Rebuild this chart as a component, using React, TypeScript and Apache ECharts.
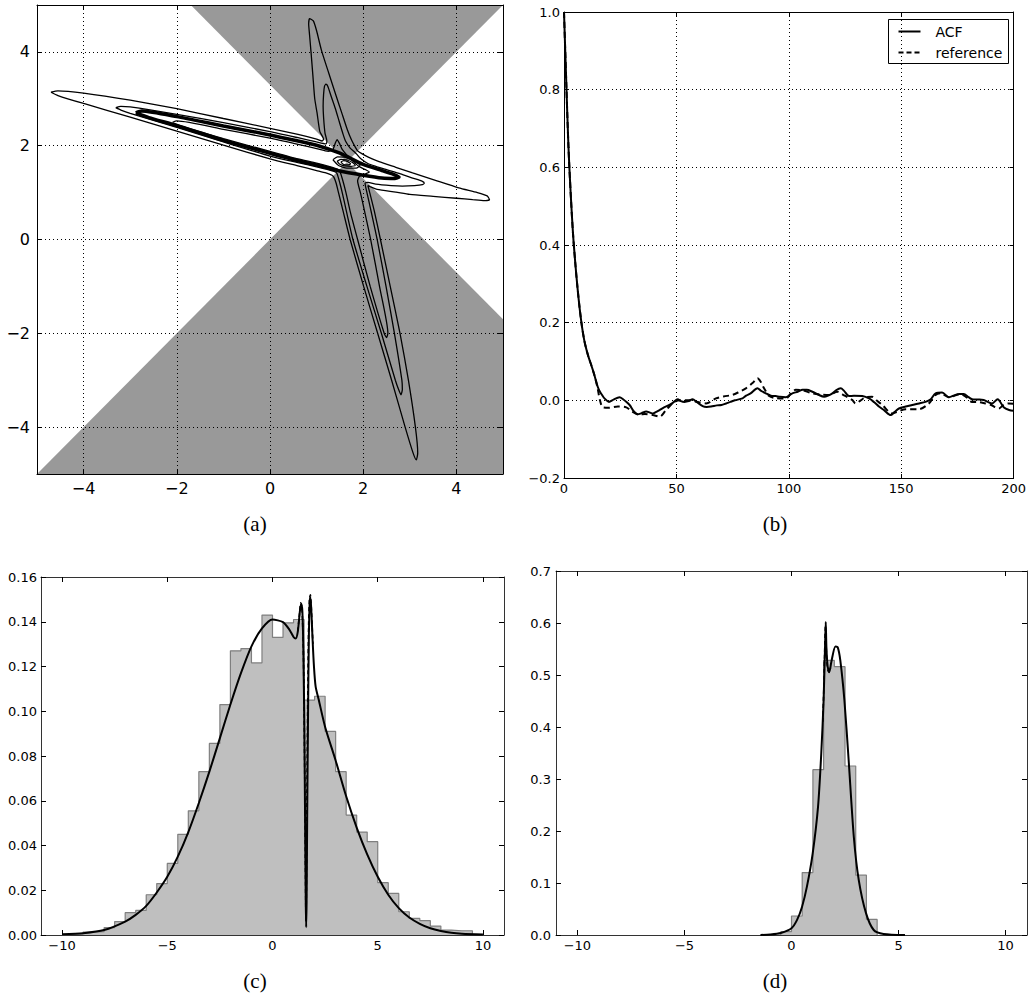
import React, { useEffect, useRef } from 'react';
import * as echarts from 'echarts';

// ---------- Panel (a): shaded wedges and contour lines ----------
const wedgeTop = [[-1.7, 5], [1.65, 1.65], [5, 5]];
const wedgeBottom = [[-5, -5], [1.65, 1.65], [5, -1.7], [5, -5]];

const contourOuter = [
  [-4.70, 3.14], [-4.55, 3.17], [-4.0, 3.12], [-3.0, 2.97], [-2.0, 2.79], [-1.0, 2.58], [0.0, 2.37], [0.6, 2.24], [1.0, 2.14], [1.12, 2.10],
  [1.15, 2.14], [1.07, 2.30], [1.01, 2.70], [0.96, 3.00], [0.92, 3.50], [0.88, 4.00], [0.85, 4.35], [0.83, 4.60], [0.85, 4.71],
  [0.93, 4.66], [1.00, 4.45], [1.10, 4.05], [1.26, 3.55], [1.42, 3.06], [1.54, 2.70], [1.66, 2.34], [1.75, 2.12], [1.83, 1.97], [1.88, 1.89],
  [1.97, 1.83], [2.12, 1.75], [2.34, 1.66], [2.70, 1.54], [3.06, 1.42], [3.55, 1.26], [4.05, 1.10], [4.45, 1.00], [4.66, 0.93], [4.71, 0.85],
  [4.60, 0.83], [4.35, 0.85], [4.00, 0.88], [3.50, 0.92], [3.00, 0.96], [2.70, 1.01], [2.30, 1.07], [2.14, 1.13],
  [2.10, 1.15], [2.14, 1.00], [2.24, 0.60], [2.37, 0.00], [2.58, -1.00], [2.79, -2.00], [2.97, -3.00], [3.12, -4.00], [3.17, -4.55], [3.14, -4.70],
  [3.07, -4.55], [2.90, -4.00], [2.61, -3.00], [2.31, -2.00], [2.01, -1.00], [1.72, 0.00], [1.57, 0.60], [1.47, 1.00], [1.42, 1.20], [1.37, 1.33],
  [1.33, 1.37], [1.20, 1.42], [1.00, 1.47], [0.60, 1.57], [0.00, 1.72], [-1.00, 2.01], [-2.00, 2.31], [-3.00, 2.61], [-4.00, 2.90], [-4.55, 3.07], [-4.70, 3.14],
];

const contourMiddle = [
  [-3.31, 2.81], [-3.2, 2.84], [-3.0, 2.83], [-2.0, 2.67], [-1.0, 2.49], [0.0, 2.30], [0.6, 2.17], [1.0, 2.08], [1.20, 2.04],
  [1.22, 2.10], [1.18, 2.27], [1.15, 2.60], [1.14, 2.84], [1.15, 3.10], [1.17, 3.27], [1.20, 3.31],
  [1.24, 3.27], [1.31, 3.06], [1.40, 2.80], [1.49, 2.50], [1.56, 2.27], [1.62, 2.10], [1.72, 1.95], [1.82, 1.86],
  [1.86, 1.82], [1.95, 1.72], [2.10, 1.62], [2.27, 1.56], [2.50, 1.49], [2.80, 1.40], [3.06, 1.31], [3.27, 1.24], [3.31, 1.20],
  [3.27, 1.17], [3.10, 1.15], [2.84, 1.14], [2.60, 1.15], [2.27, 1.18], [2.10, 1.22],
  [2.04, 1.20], [2.08, 1.00], [2.17, 0.60], [2.30, 0.00], [2.49, -1.00], [2.67, -2.00], [2.83, -3.00], [2.84, -3.20], [2.81, -3.31],
  [2.76, -3.20], [2.69, -3.00], [2.39, -2.00], [2.08, -1.00], [1.78, 0.00], [1.64, 0.60], [1.55, 1.00], [1.50, 1.20], [1.44, 1.40],
  [1.40, 1.44], [1.20, 1.50], [1.00, 1.55], [0.60, 1.64], [0.00, 1.78], [-1.00, 2.08], [-2.00, 2.39], [-3.00, 2.69], [-3.2, 2.76], [-3.31, 2.81],
];

const contourInner = [
  [-2.09, 2.50], [-2.0, 2.53], [-1.0, 2.35], [0.0, 2.16], [0.6, 2.03], [1.0, 1.94], [1.25, 1.88], [1.35, 1.92], [1.40, 2.05], [1.44, 2.13],
  [1.49, 2.05], [1.55, 1.92], [1.65, 1.80], [1.80, 1.65], [1.92, 1.55], [2.05, 1.49], [2.13, 1.44],
  [2.05, 1.40], [1.92, 1.35], [1.88, 1.25], [1.94, 1.00], [2.03, 0.60], [2.16, 0.00], [2.35, -1.00], [2.53, -2.00], [2.50, -2.09],
  [2.45, -2.00], [2.15, -1.00], [1.88, 0.00], [1.72, 0.60], [1.63, 1.00], [1.55, 1.30], [1.50, 1.45],
  [1.45, 1.50], [1.30, 1.55], [1.00, 1.63], [0.60, 1.72], [0.00, 1.88], [-1.00, 2.15], [-2.00, 2.45], [-2.09, 2.50],
];

const contourThick = [
  [-2.88, 2.70], [-2.75, 2.74], [-2.0, 2.62], [-1.0, 2.42], [0.0, 2.23], [0.6, 2.10], [1.0, 2.01], [1.5, 1.84], [2.0, 1.60], [2.4, 1.47], [2.65, 1.39], [2.77, 1.33],
  [2.68, 1.30], [2.4, 1.31], [2.0, 1.37], [1.5, 1.46], [1.0, 1.59], [0.6, 1.68], [0.0, 1.84], [-1.0, 2.115], [-2.0, 2.43], [-2.6, 2.60], [-2.88, 2.70],
];

const centerLoop1 = [[1.35, 1.70], [1.45, 1.76], [1.62, 1.75], [1.80, 1.68], [1.93, 1.58], [1.85, 1.52], [1.65, 1.52], [1.47, 1.58], [1.35, 1.70]];
const centerLoop2 = [[1.44, 1.67], [1.52, 1.71], [1.64, 1.70], [1.77, 1.64], [1.83, 1.58], [1.74, 1.56], [1.60, 1.57], [1.49, 1.61], [1.44, 1.67]];
const centerLoop3 = [[1.52, 1.65], [1.58, 1.68], [1.67, 1.66], [1.73, 1.61], [1.67, 1.59], [1.58, 1.60], [1.52, 1.65]];

const ticksA = [-4, -2, 0, 2, 4];

// ---------- Panel (b): autocorrelation ----------
const legendNames = ['ACF', 'reference'];

const acf = [
  [0, 1.0], [1, 0.82], [2, 0.65], [3, 0.53], [4, 0.43], [5, 0.355], [6, 0.29], [7, 0.235], [8, 0.19], [9, 0.155], [10, 0.13],
  [11, 0.11], [12, 0.093], [13, 0.075], [14, 0.055], [15, 0.035], [16, 0.022], [17, 0.013], [18, 0.005], [20, -0.004], [22, 0.002],
  [24.7, 0.008], [26, 0.004], [29.2, -0.012], [31, -0.028], [32.8, -0.036], [34.5, -0.033], [36.6, -0.029], [38, -0.031], [39.5, -0.034],
  [41, -0.03], [42.5, -0.025], [44.5, -0.018], [46.9, -0.012], [48.5, -0.006], [50.6, 0.003], [52, -0.002], [53.6, -0.004], [55.5, -0.002],
  [57.2, 0.003], [59, -0.004], [61.7, -0.015], [63.5, -0.017], [65.4, -0.016], [68, -0.013], [70, -0.012], [72.1, -0.008], [74, -0.004],
  [76, 0.0], [79.4, 0.005], [81, 0.012], [83, 0.018], [86.1, 0.031], [87.5, 0.025], [89.8, 0.018], [92, 0.012], [94.2, 0.011], [96, 0.009],
  [98.7, 0.008], [101.6, 0.018], [104, 0.022], [106.1, 0.027], [108, 0.027], [110.5, 0.022], [113, 0.015], [115.7, 0.009], [117.5, 0.012],
  [119.4, 0.018], [121, 0.026], [123.1, 0.031], [124.5, 0.025], [126.8, 0.011], [129, 0.012], [132.7, 0.011], [135.7, 0.005], [138, -0.005],
  [140.1, -0.016], [142.5, -0.026], [145.3, -0.038], [147, -0.03], [149, -0.021], [152, -0.016], [154.9, -0.012], [158, -0.008],
  [160.8, -0.004], [163, 0.002], [165.3, 0.018], [168.2, 0.02], [171.2, 0.008], [174.1, 0.014], [176, 0.016], [177.8, 0.016], [180, 0.008],
  [181.5, 0.003], [184, 0.002], [186.7, 0.001], [188.5, -0.004], [190.4, -0.008], [192.9, 0.003], [195.6, -0.018], [198, -0.025], [200, -0.027],
];

const acfReference = [
  [0, 1.0], [1, 0.82], [2, 0.65], [3, 0.53], [4, 0.43], [5, 0.355], [6, 0.29], [7, 0.235], [8, 0.19], [9, 0.155], [10, 0.13],
  [11, 0.11], [12, 0.093], [13, 0.075], [14, 0.055], [15, 0.03], [16, 0.0], [17.3, -0.018], [20, -0.019], [24, -0.016], [27.7, -0.018],
  [30, -0.028], [33.6, -0.037], [36, -0.035], [39.5, -0.038], [42.5, -0.042], [45.4, -0.025], [49.1, -0.004], [52, 0.0], [56, 0.0],
  [60, -0.005], [63.2, -0.008], [67.6, 0.005], [71, 0.01], [75, 0.014], [78, 0.022], [80.9, 0.031], [84, 0.045], [86.1, 0.057],
  [87.5, 0.048], [89, 0.031], [91.3, 0.011], [94, 0.006], [98.7, 0.005], [101, 0.018], [103.1, 0.027], [106, 0.026], [110.5, 0.018],
  [114, 0.015], [117.9, 0.014], [121.6, 0.022], [124, 0.015], [128.2, 0.001], [129.7, -0.008], [132, 0.0], [134.2, 0.008], [137.1, 0.009],
  [139, 0.0], [141.6, -0.012], [146, -0.034], [149, -0.028], [151.9, -0.023], [157.8, -0.023], [162.3, -0.008], [165.3, 0.014],
  [167.5, 0.018], [171.2, 0.008], [176.4, 0.016], [179, 0.008], [181.5, -0.004], [184, -0.004], [187.4, -0.008], [190, -0.012],
  [193.4, -0.021], [195.5, -0.012], [197.8, -0.008], [200, -0.009],
];

// ---------- Panel (c): histogram and density ----------
const cBinEdges = [
  -10, -9.5, -9, -8.5, -8, -7.5, -7, -6.5, -6, -5.5, -5, -4.5, -4, -3.5, -3, -2.5, -2, -1.5, -1, -0.5,
  0, 0.5, 1, 1.5, 2, 2.5, 3, 3.5, 4, 4.5, 5, 5.5, 6, 6.5, 7, 7.5, 8, 8.5, 9, 9.5,
];
const cBinHeights = [
  0.0003, 0.0005, 0.0013, 0.0015, 0.0033, 0.006, 0.010, 0.011, 0.018, 0.023,
  0.032, 0.045, 0.0555, 0.073, 0.0856, 0.103, 0.127, 0.128, 0.1216, 0.143,
  0.133, 0.1395, 0.141, 0.105, 0.1067, 0.091, 0.073, 0.0536, 0.046, 0.0417,
  0.0234, 0.0186, 0.0104, 0.0074, 0.0064, 0.004, 0.0022, 0.0019, 0.0019,
];
const cDensity = [
  [-10.0, 0.0003], [-9.0, 0.0008], [-8.0, 0.0022], [-7.0, 0.006], [-6.5, 0.009], [-6.0, 0.013], [-5.5, 0.019], [-5.0, 0.026],
  [-4.5, 0.035], [-4.0, 0.046], [-3.5, 0.059], [-3.0, 0.073], [-2.5, 0.088], [-2.0, 0.103], [-1.5, 0.117], [-1.0, 0.129],
  [-0.5, 0.137], [0.0, 0.141], [0.5, 0.1398], [0.8, 0.1365], [1.0, 0.1332], [1.1, 0.1325], [1.2, 0.1355], [1.3, 0.1445], [1.36, 0.148],
  [1.42, 0.1445], [1.47, 0.125], [1.51, 0.095], [1.55, 0.05], [1.58, 0.015], [1.60, 0.0035], [1.62, 0.015], [1.65, 0.055],
  [1.69, 0.10], [1.73, 0.135], [1.77, 0.149], [1.80, 0.151], [1.84, 0.146], [1.90, 0.133], [1.97, 0.12], [2.05, 0.111],
  [2.2, 0.105], [2.5, 0.093], [3.0, 0.078], [3.5, 0.062], [4.0, 0.048], [4.5, 0.036], [5.0, 0.026], [5.5, 0.018],
  [6.0, 0.012], [6.5, 0.0078], [7.0, 0.005], [7.5, 0.003], [8.0, 0.0018], [8.5, 0.001], [9.0, 0.0006], [10.0, 0.0002],
];
// dashed reference density, visible only where it departs from the solid one (around the notch)
const cDensityRef = [
  [1.2, 0.1358], [1.28, 0.143], [1.34, 0.1485], [1.40, 0.146], [1.46, 0.130], [1.50, 0.104], [1.54, 0.062], [1.57, 0.025],
  [1.59, 0.006], [1.61, 0.02], [1.64, 0.065], [1.68, 0.110], [1.72, 0.140], [1.76, 0.1505], [1.80, 0.152], [1.85, 0.145], [1.92, 0.130],
];

// ---------- Panel (d): histogram and density ----------
const dBinEdges = [-0.5, 0, 0.5, 1, 1.5, 2, 2.5, 3, 3.5, 4];
const dBinHeights = [0.0064, 0.0365, 0.12, 0.318, 0.528, 0.516, 0.325, 0.115, 0.030];
const dDensity = [
  [-1.45, 0.0], [-1.0, 0.001], [-0.5, 0.004], [0.0, 0.013], [0.26, 0.029], [0.49, 0.054], [0.72, 0.093], [0.99, 0.157],
  [1.24, 0.247], [1.39, 0.349], [1.50, 0.452], [1.57, 0.56], [1.60, 0.602], [1.63, 0.554], [1.69, 0.516], [1.77, 0.506],
  [1.86, 0.525], [2.05, 0.555], [2.16, 0.553], [2.28, 0.528], [2.47, 0.452], [2.67, 0.336], [2.91, 0.189], [3.14, 0.106],
  [3.48, 0.042], [3.84, 0.0096], [4.3, 0.002], [5.3, 0.0],
];
const dDensityRef = [
  [1.46, 0.41], [1.52, 0.49], [1.56, 0.565], [1.585, 0.595], [1.61, 0.565], [1.65, 0.527], [1.70, 0.509], [1.76, 0.505], [1.82, 0.514],
];

const ticksCD = [-10, -5, 0, 5, 10];
const captions = ['(a)', '(b)', '(c)', '(d)'];

// ---------- helpers ----------
const minus = (s: string) => (s.charAt(0) === '-' ? '\u2212' + s.slice(1) : s);
const fmt = (d: number) => (v: number) => minus(Number(v).toFixed(d));

const histOutline = (edges: number[], heights: number[]) => {
  const pts: number[][] = [[edges[0], 0]];
  heights.forEach((h, i) => {
    pts.push([edges[i], h]);
    pts.push([edges[i + 1], h]);
  });
  pts.push([edges[edges.length - 1], 0]);
  return pts;
};

const SANS = '"DejaVu Sans", sans-serif';
const dotted = { color: '#000', width: 1, type: [1, 3] as any };

function makeX(gi: number, cfg: any) {
  const line = { show: true, onZero: false, lineStyle: { color: cfg.frame, width: 1 } };
  const tick = { show: true, inside: true, length: cfg.tickLen, lineStyle: { color: '#000', width: 1 }, customValues: cfg.custom };
  const base = { type: 'value', gridIndex: gi, min: cfg.min, max: cfg.max, interval: cfg.interval, z: cfg.z || 0 };
  return [
    {
      ...base, position: 'bottom', axisLine: line, axisTick: tick,
      axisLabel: { show: true, customValues: cfg.custom, formatter: cfg.fmt, fontSize: cfg.fontSize, fontFamily: SANS, color: '#000', margin: cfg.margin },
      splitLine: cfg.grid ? { show: true, lineStyle: dotted } : { show: false },
    },
    { ...base, position: 'top', axisLine: line, axisTick: tick, axisLabel: { show: false }, splitLine: { show: false } },
  ];
}

function makeY(gi: number, cfg: any) {
  const line = { show: true, onZero: false, lineStyle: { color: cfg.frame, width: 1 } };
  const tick = { show: true, inside: true, length: cfg.tickLen, lineStyle: { color: '#000', width: 1 }, customValues: cfg.custom };
  const base = { type: 'value', gridIndex: gi, min: cfg.min, max: cfg.max, interval: cfg.interval, z: cfg.z || 0 };
  return [
    {
      ...base, position: 'left', axisLine: line, axisTick: tick,
      axisLabel: { show: true, customValues: cfg.custom, formatter: cfg.fmt, fontSize: cfg.fontSize, fontFamily: SANS, color: '#000', margin: cfg.margin },
      splitLine: cfg.grid ? { show: true, lineStyle: dotted } : { show: false },
    },
    { ...base, position: 'right', axisLine: line, axisTick: tick, axisLabel: { show: false }, splitLine: { show: false } },
  ];
}

const polygonRender = (pts: number[][], fill: string) => (params: any, api: any) => {
  if (params.dataIndex !== 0) return { type: 'group', children: [] };
  return { type: 'polygon', shape: { points: pts.map((p) => api.coord(p)) }, style: { fill } };
};

const contour = (data: number[][], width: number) => ({
  type: 'line', xAxisIndex: 0, yAxisIndex: 0, data, symbol: 'none', showSymbol: false, smooth: 0.2,
  lineStyle: { color: '#000', width }, z: 10, silent: true,
});

const curve = (xi: number, data: number[][], width: number, dashed: boolean, z: number) => ({
  type: 'line', xAxisIndex: xi, yAxisIndex: xi, data, symbol: 'none', showSymbol: false, smooth: 0.25,
  lineStyle: { color: '#000', width, type: dashed ? [4, 3] : 'solid' }, z, silent: true,
});

// legend box for panel (b), drawn as graphic elements
const legendGraphic = {
  type: 'group', left: 888, top: 19,
  children: [
    { type: 'rect', shape: { x: 0, y: 0, width: 120, height: 44 }, style: { fill: '#fff', stroke: '#000', lineWidth: 1 } },
    { type: 'line', shape: { x1: 10, y1: 12, x2: 32, y2: 12 }, style: { stroke: '#000', lineWidth: 2 } },
    { type: 'line', shape: { x1: 10, y1: 33, x2: 32, y2: 33 }, style: { stroke: '#000', lineWidth: 2, lineDash: [5, 3] } },
    { type: 'text', x: 47, y: 12, style: { text: legendNames[0], font: '14px "DejaVu Sans", sans-serif', fill: '#000', textVerticalAlign: 'middle' } },
    { type: 'text', x: 47, y: 33, style: { text: legendNames[1], font: '14px "DejaVu Sans", sans-serif', fill: '#000', textVerticalAlign: 'middle' } },
  ],
};

export default function App() {
  const ref = useRef<HTMLDivElement>(null);
  useEffect(() => {
    if (!ref.current) return;
    const chart = echarts.init(ref.current, null, { renderer: 'svg' });
    const option: any = {
      animation: false,
      backgroundColor: '#fff',
      grid: [
        { left: 37, top: 5, width: 466, height: 469 },
        { left: 564, top: 12, width: 451, height: 466 },
        { left: 41, top: 577, width: 463, height: 358 },
        { left: 556, top: 571, width: 471, height: 364 },
      ],
      xAxis: [
        ...makeX(0, { min: -5, max: 5, custom: ticksA, fmt: fmt(0), fontSize: 16, margin: 6, tickLen: 5, grid: true, frame: '#000', z: 5 }),
        ...makeX(1, { min: 0, max: 200, interval: 50, fmt: fmt(0), fontSize: 13, margin: 4, tickLen: 4, grid: true, frame: '#000', z: 5 }),
        ...makeX(2, { min: -11, max: 11, custom: ticksCD, fmt: fmt(0), fontSize: 13, margin: 4, tickLen: 5, grid: false, frame: '#333' }),
        ...makeX(3, { min: -11, max: 11, custom: ticksCD, fmt: fmt(0), fontSize: 13, margin: 4, tickLen: 5, grid: false, frame: '#333' }),
      ],
      yAxis: [
        ...makeY(0, { min: -5, max: 5, custom: ticksA, fmt: fmt(0), fontSize: 16, margin: 7, tickLen: 5, grid: true, frame: '#000', z: 5 }),
        ...makeY(1, { min: -0.2, max: 1.0, interval: 0.2, fmt: fmt(1), fontSize: 13, margin: 4, tickLen: 4, grid: true, frame: '#000', z: 5 }),
        ...makeY(2, { min: 0, max: 0.16, interval: 0.02, fmt: fmt(2), fontSize: 13, margin: 4, tickLen: 5, grid: false, frame: '#333' }),
        ...makeY(3, { min: 0, max: 0.7, interval: 0.1, fmt: fmt(1), fontSize: 13, margin: 5, tickLen: 5, grid: false, frame: '#333' }),
      ],
      graphic: [
        legendGraphic,
        ...captions.map((t, i) => ({
          type: 'text',
          x: i % 2 === 0 ? 255 : 775,
          y: i < 2 ? 524 : 981,
          style: { text: t, font: '21px "Liberation Serif", "DejaVu Serif", serif', fill: '#000', textAlign: 'center', textVerticalAlign: 'middle' },
        })),
      ],
      series: [
        { type: 'custom', xAxisIndex: 0, yAxisIndex: 0, data: wedgeTop, renderItem: polygonRender(wedgeTop, '#999999'), z: 1, silent: true },
        { type: 'custom', xAxisIndex: 0, yAxisIndex: 0, data: wedgeBottom, renderItem: polygonRender(wedgeBottom, '#999999'), z: 1, silent: true },
        contour(contourOuter, 1.3),
        contour(contourMiddle, 1.3),
        contour(contourInner, 1.3),
        contour(contourThick, 3.5),
        contour(centerLoop1, 1.2),
        contour(centerLoop2, 1.2),
        contour(centerLoop3, 1.2),
        {
          name: legendNames[0], type: 'line', xAxisIndex: 2, yAxisIndex: 2, data: acf, symbol: 'none', showSymbol: false, smooth: 0.3,
          itemStyle: { color: '#000' }, lineStyle: { color: '#000', width: 2 }, z: 10,
        },
        {
          name: legendNames[1], type: 'line', xAxisIndex: 2, yAxisIndex: 2, data: acfReference, symbol: 'none', showSymbol: false, smooth: 0.3,
          itemStyle: { color: '#000' }, lineStyle: { color: '#000', width: 2, type: [6, 4] }, z: 10,
        },
        {
          type: 'line', xAxisIndex: 4, yAxisIndex: 4, data: histOutline(cBinEdges, cBinHeights), symbol: 'none', showSymbol: false,
          lineStyle: { color: '#7f7f7f', width: 1.2 }, areaStyle: { color: '#bfbfbf', opacity: 1 }, z: 2, silent: true,
        },
        curve(4, cDensity, 2, false, 10),
        curve(4, cDensityRef, 1.6, true, 9),
        {
          type: 'line', xAxisIndex: 6, yAxisIndex: 6, data: histOutline(dBinEdges, dBinHeights), symbol: 'none', showSymbol: false,
          lineStyle: { color: '#7f7f7f', width: 1.2 }, areaStyle: { color: '#bfbfbf', opacity: 1 }, z: 2, silent: true,
        },
        curve(6, dDensity, 2, false, 10),
        curve(6, dDensityRef, 1.6, true, 9),
      ],
    };
    chart.setOption(option);
    return () => chart.dispose();
  }, []);
  return (
    <div
      ref={ref}
      style={{ position: 'absolute', left: 0, top: 0, width: 1029, height: 997, background: '#fff' }}
    />
  );
}
